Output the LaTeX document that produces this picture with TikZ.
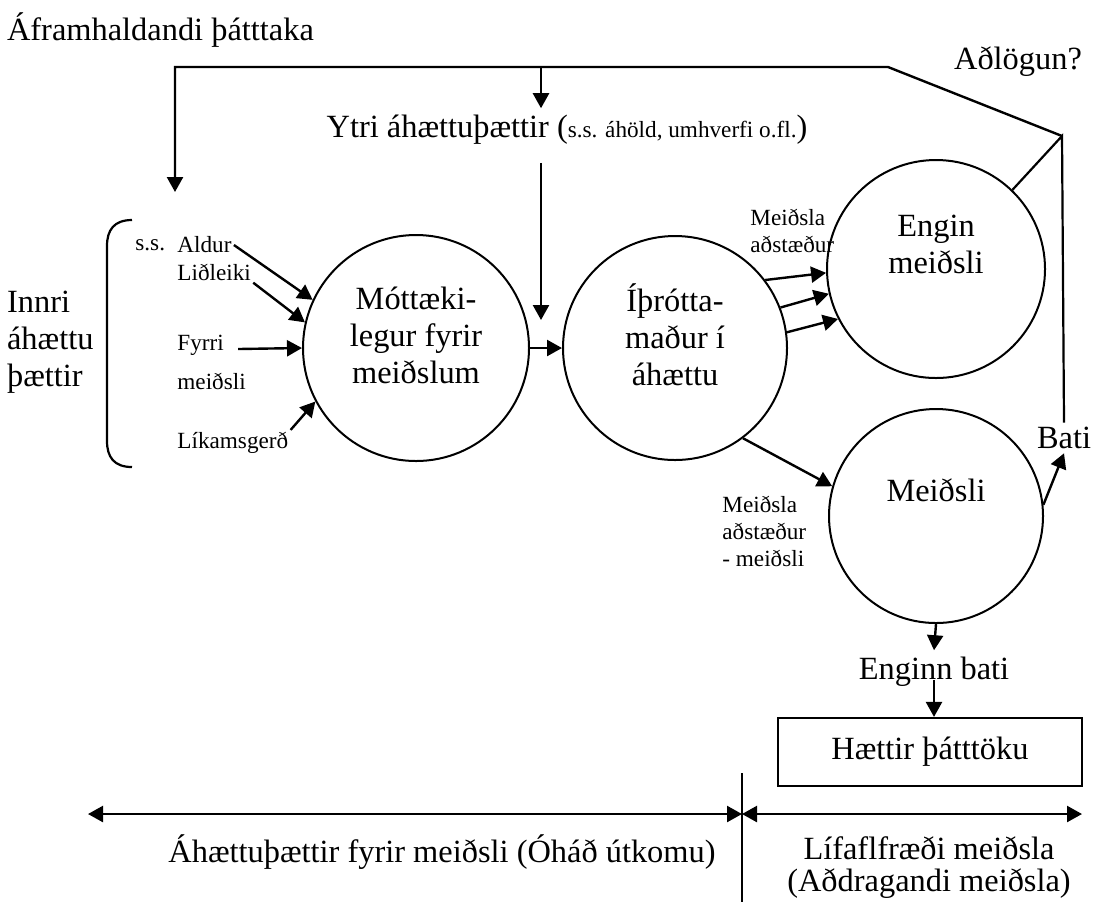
\documentclass[tikz,border=0pt]{standalone}
\usepackage{fontspec}
\setmainfont{Liberation Serif}
\usetikzlibrary{arrows.meta}

\begin{document}
\begin{tikzpicture}[x=0.5pt, y=-0.5pt,
    font=\fontsize{16.2}{18.5}\selectfont,
    sm/.style={font=\fontsize{11.6}{13.5}\selectfont, inner sep=1pt},
    ring/.style={draw, circle, line width=1pt, inner sep=0pt},
    arr/.style={-{Triangle[length=7.5pt,width=8pt]}, line width=1.2pt},
    dbl/.style={{Triangle[length=7.5pt,width=8pt]}-{Triangle[length=7.5pt,width=8pt]}, line width=1.2pt},
    ln/.style={line width=1.1pt}]
    \useasboundingbox (0,0) rectangle (1101,902);

    % circles
    \node[ring, minimum size=113pt] (mott) at (416,348) {};
    \node[ring, minimum size=112pt] (ithrott) at (675,348) {};
    \node[ring, minimum size=109pt] (engin) at (936,269) {};
    \node[ring, minimum size=107pt] (meidsli) at (936,516) {};
    \node[align=center] (motttxt) at ([yshift=6.5pt]mott.center) {Móttæki-\\legur fyrir\\meiðslum};
    \node[align=center] (ithrotttxt) at ([yshift=6.5pt]ithrott.center) {Íþrótta-\\maður í\\áhættu};
    \node[align=center] (engintxt) at ([yshift=12.5pt]engin.center) {Engin\\meiðsli};
    \node (meidslitxt) at ([yshift=13pt]meidsli.center) {Meiðsli};

    % top
    \node[anchor=west] (afram) at (0,30) {Áframhaldandi þátttaka};
    \node (adlogun) at (1018,62) {Aðlögun?};
    \node (ytri) at (567,130) {Ytri áhættuþættir ({\fontsize{11.6}{13.5}\selectfont s.s. áhöld, umhverfi o.fl.})};
    \coordinate (adl) at (1062,136);
    \coordinate (knee) at (888,67);
    \coordinate (topleft) at (175,67);
    \coordinate (innriin) at (175,192);
    \coordinate (topmid) at (541,67);
    \coordinate (riskin) at (541,320);
    \draw[arr] (adl) -- (knee) -- (topleft) -- (innriin);
    \draw[arr] (topmid) -- (topmid |- ytri.north);
    \draw[arr] ([yshift=-5.5pt]topmid |- ytri.south) -- (riskin);

    % inner factors
    \node[anchor=west, align=left] (innri) at (0,342) {Innri\\áhættu\\þættir};
    \draw[ln] (132,220) .. controls (114,220) and (107,230) .. (107,246) -- (107,441) .. controls (107,457) and (114,467) .. (132,467);
    \node[sm, anchor=west] (ss) at (133,245) {s.s.};
    \node[sm, anchor=west] (aldur) at (175,245) {Aldur};
    \node[sm, anchor=west] (lidl) at (175,272) {Liðleiki};
    \node[sm, anchor=west] (fyrri) at (175,345) {Fyrri};
    \node[sm, anchor=west] (fyrrim) at (175,381) {meiðsli};
    \node[sm, anchor=west] (likam) at (175,443) {Líkamsgerð};
    \draw[arr] (aldur.east) -- (mott.155);
    \draw[arr] (lidl.south east) -- (mott.167);
    \draw[arr] ([shift={(6pt,-2pt)}]fyrri.east) -- (mott.180);
    \draw[arr] (likam.north east) -- (mott.208);

    \draw[arr] (mott) -- (ithrott);
    \draw[arr] (ithrott.37) -- (engin.182);
    \draw[arr] (ithrott.21) -- (engin.193);
    \draw[arr] (ithrott.8) -- (engin.207);
    \draw[arr] (ithrott.-53) -- (meidsli.164);
    \node[sm, anchor=west, align=left] (adst1) at (748,231) {Meiðsla\\aðstæður};
    \node[sm, anchor=west, align=left] (adst2) at (720,531) {Meiðsla\\aðstæður\\- meiðsli};

    % outcome
    \node[inner sep=2pt] (bati) at (1064,438) {Bati};
    \draw[arr] (meidsli.6) -- (bati.south);
    \draw[ln] (bati.north) -- (adl) -- (engin.46);
    \node (enginn) at (934,672) {Enginn bati};
    \node[draw, ln, minimum width=152pt, minimum height=34pt] (haettir) at (930,752) {Hættir þátttöku};
    \draw[arr] (meidsli.south) -- (enginn.north);
    \draw[arr] ([yshift=7pt]enginn.south) -- (enginn.south |- haettir.north);

    % time axis
    \coordinate (bl) at (88,814);
    \coordinate (bm) at (742,814);
    \coordinate (br) at (1082,814);
    \coordinate (divtop) at (742,773);
    \coordinate (divbot) at (742,902);
    \draw[dbl] (bl) -- (bm);
    \draw[dbl] (bm) -- (br);
    \draw[ln] (divtop) -- (divbot);
    \node (utkoma) at (442,852) {Áhættuþættir fyrir meiðsli (Óháð útkomu)};
    \node[align=center, font=\fontsize{16.2}{16}\selectfont] (lifafl) at (929,868) {Lífaflfræði meiðsla\\(Aðdragandi meiðsla)};
\end{tikzpicture}
\end{document}
